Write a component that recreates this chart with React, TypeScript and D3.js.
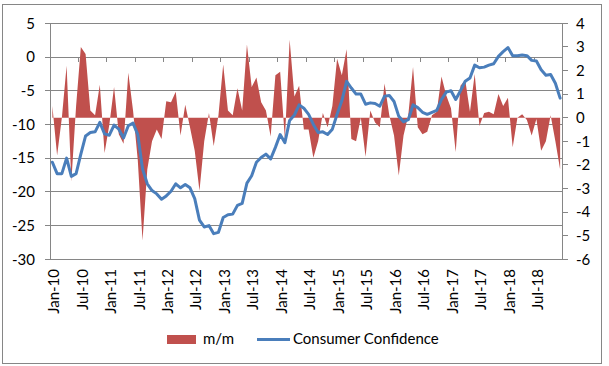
import React from 'react';
import * as d3 from 'd3';

// Consumer confidence (left axis), monthly Jan-10 .. Dec-18
const confidence2010 = [-15.6, -17.3, -17.3, -15.0, -17.7, -17.3, -14.4, -11.7, -11.2, -11.1, -9.7, -11.4];
const confidence2011 = [-11.6, -10.1, -10.7, -12.0, -10.2, -9.8, -11.5, -16.6, -18.8, -19.8, -20.3, -21.1];
const confidence2012 = [-20.6, -19.9, -18.8, -19.4, -18.9, -19.4, -21.0, -24.2, -25.2, -25.0, -26.2, -26.0];
const confidence2013 = [-23.8, -23.4, -23.3, -22.0, -21.7, -18.7, -17.6, -15.6, -14.9, -14.4, -15.1, -13.4];
const confidence2014 = [-11.5, -12.7, -9.4, -8.6, -7.1, -7.6, -8.5, -10.0, -11.2, -11.1, -11.5, -10.7];
const confidence2015 = [-8.5, -6.5, -3.6, -4.6, -5.5, -5.5, -7.0, -6.8, -6.9, -7.3, -5.8, -5.7];
const confidence2016 = [-6.6, -8.8, -9.6, -9.3, -7.1, -7.5, -8.2, -8.5, -8.2, -7.9, -6.3, -5.2];
const confidence2017 = [-5.0, -6.3, -5.0, -3.6, -3.1, -1.2, -1.6, -1.5, -1.2, -1.0, 0.1, 0.8];
const confidence2018 = [1.4, 0.2, 0.2, 0.3, 0.2, -0.5, -0.6, -1.9, -2.7, -2.6, -3.9, -6.1];

// m/m change (right axis)
const mm2010 = [0.5, -1.6, 0.0, 2.2, -2.7, 0.5, 3.0, 2.7, 0.3, 0.1, 1.4, -1.5];
const mm2011 = [-0.3, 1.3, -0.7, -1.1, 1.9, 0.3, -1.8, -5.2, -2.2, -1.0, -0.5, -0.9];
const mm2012 = [0.7, 0.65, 1.1, -0.75, 0.55, -0.4, -1.4, -3.1, -1.0, 0.2, -1.2, 0.1];
const mm2013 = [2.25, 0.3, 0.1, 1.25, 0.3, 3.1, 1.3, 1.7, 0.65, 0.3, -0.8, 1.8];
const mm2014 = [1.95, -0.9, 3.3, 0.9, 1.35, -0.5, -0.5, -1.7, -1.0, 0.2, -0.4, 0.5];
const mm2015 = [2.5, 1.8, 2.9, -0.9, -1.0, 0.0, -1.65, 0.3, -0.2, -0.4, 1.45, 0.1];
const mm2016 = [-0.75, -2.45, -0.75, 0.1, 2.15, -0.4, -0.7, -0.6, 0.1, 0.25, 1.75, 0.95];
const mm2017 = [0.4, -1.45, 1.35, 1.6, 0.25, 1.85, -0.35, 0.2, 0.25, 0.15, 1.0, 0.5];
const mm2018 = [0.85, -1.25, 0.0, 0.15, -0.1, -0.75, -0.05, -1.4, -1.0, 0.1, -1.0, -2.2];

const confidence = [
  ...confidence2010, ...confidence2011, ...confidence2012, ...confidence2013, ...confidence2014,
  ...confidence2015, ...confidence2016, ...confidence2017, ...confidence2018,
];
const mm = [
  ...mm2010, ...mm2011, ...mm2012, ...mm2013, ...mm2014,
  ...mm2015, ...mm2016, ...mm2017, ...mm2018,
];

const months = d3.timeMonth.range(new Date(2010, 0, 1), new Date(2019, 0, 1));
const fmt = d3.timeFormat('%b-%y');
const categories = months.map(d => fmt(d));
const xTickLabels = ['Jan-10', 'Jul-10', 'Jan-11', 'Jul-11', 'Jan-12', 'Jul-12', 'Jan-13', 'Jul-13', 'Jan-14',
  'Jul-14', 'Jan-15', 'Jul-15', 'Jan-16', 'Jul-16', 'Jan-17', 'Jul-17', 'Jan-18', 'Jul-18'];
const leftTicks = [5, 0, -5, -10, -15, -20, -25, -30];
const rightTicks = [4, 3, 2, 1, 0, -1, -2, -3, -4, -5, -6];

const W = 609, H = 366;
const left = 50, right = 562.5, top = 23.3, bottom = 259.3;
const RED = '#C0504D', BLUE = '#4A7EBB', GRID = '#868686';
const FONT = 'Lato, "Open Sans", sans-serif';

const App = () => {
  const x = d3.scaleBand().domain(categories).range([left, right]).padding(0);
  const step = x.step();
  const cx = (c) => x(c) + step / 2;
  const yL = d3.scaleLinear().domain([-30, 5]).range([bottom, top]);
  const yR = d3.scaleLinear().domain([-6, 4]).range([bottom, top]);

  const areaPath = d3.area()
    .x((d, i) => cx(categories[i]))
    .y0(yR(0))
    .y1(d => yR(d))(mm);
  const linePath = d3.line()
    .x((d, i) => cx(categories[i]))
    .y(d => yL(d))(confidence);

  const boundaries = d3.range(0, categories.length + 1, 6).map(k => left + k * step);
  const axisY = yL(0);

  return (
    <svg width={W} height={H} style={{ position: 'absolute', left: 0, top: 0, background: '#fff' }} fontFamily={FONT}>
      <rect x={2.5} y={4.5} width={599} height={359} fill="#fff" stroke={GRID} strokeWidth={1} />
      <g stroke={GRID} strokeWidth={1} shapeRendering="crispEdges">
        {leftTicks.map(t => <line key={'g' + t} x1={left - 5} x2={right} y1={yL(t)} y2={yL(t)} />)}
        <line x1={left} x2={left} y1={top} y2={bottom} />
        <line x1={right} x2={right} y1={top} y2={bottom} />
        {rightTicks.map(t => <line key={'r' + t} x1={right} x2={right + 5} y1={yR(t)} y2={yR(t)} />)}
        {boundaries.map((bx, i) => <line key={'b' + i} x1={bx} x2={bx} y1={axisY} y2={axisY + 5} />)}
      </g>
      <path d={areaPath} fill={RED} />
      <path d={linePath} fill="none" stroke={BLUE} strokeWidth={3} strokeLinejoin="round" strokeLinecap="round" />
      <g fontSize={15} fill="#000">
        {leftTicks.map(t => <text key={'lt' + t} x={35} y={yL(t)} dy="0.35em" textAnchor="end">{t}</text>)}
        {rightTicks.map(t => <text key={'rt' + t} x={576} y={yR(t)} dy="0.35em" textAnchor="start">{t}</text>)}
        {xTickLabels.map(l => {
          const px = cx(l) + 1.5;
          return <text key={l} transform={`translate(${px},269) rotate(-90)`} dy="0.35em" textAnchor="end">{l}</text>;
        })}
      </g>
      <g fontSize={15} fill="#000">
        <rect x={167} y={335} width={29} height={9} fill={RED} />
        <text x={203} y={344}>m/m</text>
        <line x1={257} x2={290} y1={339.5} y2={339.5} stroke={BLUE} strokeWidth={3} />
        <text x={293} y={344}>Consumer Confidence</text>
      </g>
    </svg>
  );
};

export default App;
